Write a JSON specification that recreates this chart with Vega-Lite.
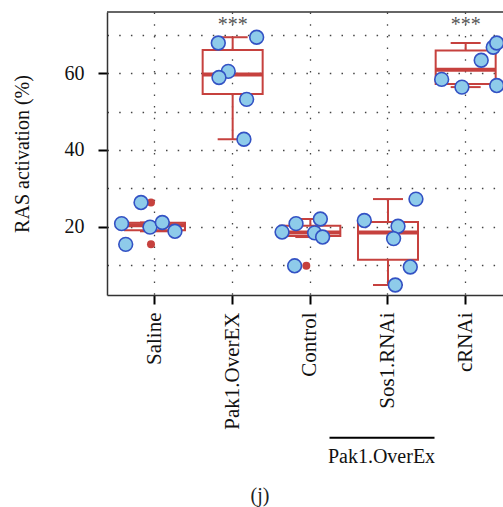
{
  "$schema": "https://vega.github.io/schema/vega-lite/v6.json",
  "width": 396,
  "height": 283,
  "autosize": {"type": "none"},
  "padding": {"left": 107, "top": 12, "right": 0, "bottom": 212},
  "background": "white",
  "config": {
    "font": "Liberation Serif",
    "view": {"stroke": null}
  },
  "title": {
    "text": "(j)",
    "orient": "bottom",
    "anchor": "middle",
    "fontSize": 20,
    "fontWeight": "normal",
    "font": "Liberation Serif",
    "color": "#222",
    "offset": 19,
    "dx": -45
  },
  "datasets": {
    "ras": [
      {"group": "Saline", "value": 26.3, "jitter": -0.18},
      {"group": "Saline", "value": 20.8, "jitter": -0.43},
      {"group": "Saline", "value": 19.9, "jitter": -0.064},
      {"group": "Saline", "value": 21.1, "jitter": 0.094},
      {"group": "Saline", "value": 18.8, "jitter": 0.257},
      {"group": "Saline", "value": 15.4, "jitter": -0.377},
      {"group": "Pak1.OverEX", "value": 67.9, "jitter": -0.185},
      {"group": "Pak1.OverEX", "value": 69.4, "jitter": 0.309},
      {"group": "Pak1.OverEX", "value": 60.5, "jitter": -0.057},
      {"group": "Pak1.OverEX", "value": 58.9, "jitter": -0.176},
      {"group": "Pak1.OverEX", "value": 53.2, "jitter": 0.18},
      {"group": "Pak1.OverEX", "value": 42.8, "jitter": 0.145},
      {"group": "Control", "value": 18.6, "jitter": -0.364},
      {"group": "Control", "value": 20.8, "jitter": -0.184},
      {"group": "Control", "value": 22.0, "jitter": 0.129},
      {"group": "Control", "value": 18.4, "jitter": 0.055},
      {"group": "Control", "value": 17.3, "jitter": 0.158},
      {"group": "Control", "value": 9.8, "jitter": -0.202},
      {"group": "Sos1.RNAi", "value": 27.2, "jitter": 0.36},
      {"group": "Sos1.RNAi", "value": 21.6, "jitter": -0.305},
      {"group": "Sos1.RNAi", "value": 20.1, "jitter": 0.129},
      {"group": "Sos1.RNAi", "value": 16.9, "jitter": 0.072},
      {"group": "Sos1.RNAi", "value": 9.5, "jitter": 0.287},
      {"group": "Sos1.RNAi", "value": 4.8, "jitter": 0.094},
      {"group": "cRNAi", "value": 58.4, "jitter": -0.309},
      {"group": "cRNAi", "value": 56.4, "jitter": -0.048},
      {"group": "cRNAi", "value": 63.4, "jitter": 0.2},
      {"group": "cRNAi", "value": 66.8, "jitter": 0.355},
      {"group": "cRNAi", "value": 67.9, "jitter": 0.4},
      {"group": "cRNAi", "value": 56.8, "jitter": 0.4}
    ],
    "stars": [
      {"group": "Pak1.OverEX", "label": "***"},
      {"group": "cRNAi", "label": "***"}
    ],
    "bracket": [
      {"group": "Sos1.RNAi", "label": "Pak1.OverEx"}
    ]
  },
  "layer": [
    {
      "data": {"name": "ras"},
      "mark": {
        "type": "boxplot",
        "extent": 1.5,
        "size": 60,
        "box": {"fill": "white", "fillOpacity": 0, "stroke": "#c6413e", "strokeWidth": 2, "strokeOpacity": 1, "opacity": 1},
        "median": {"color": "#c6413e", "thickness": 4, "opacity": 1},
        "rule": {"color": "#c6413e", "strokeWidth": 2, "opacity": 1},
        "ticks": {"color": "#c6413e", "size": 30, "thickness": 2, "opacity": 1},
        "outliers": {"color": "#c6413e", "filled": true, "size": 64, "opacity": 1, "xOffset": -4}
      },
      "encoding": {
        "x": {
          "field": "group",
          "type": "nominal",
          "scale": {
            "domain": ["Saline", "Pak1.OverEX", "Control", "Sos1.RNAi", "cRNAi"],
            "paddingInner": 0.5,
            "paddingOuter": 0.2993,
            "align": 0.6146
          },
          "axis": {
            "title": null,
            "labelAngle": -90,
            "labelFontSize": 21,
            "labelColor": "#111",
            "labelPadding": 8,
            "tickSize": 9,
            "tickWidth": 2,
            "tickColor": "black",
            "domainColor": "#333",
            "domainWidth": 1.5,
            "grid": true,
            "gridDash": [1.5, 10.2],
            "gridColor": "#444",
            "gridWidth": 1.3,
            "bandPosition": 0.5
          }
        },
        "y": {
          "field": "value",
          "type": "quantitative",
          "scale": {"domain": [2.19, 75.98], "nice": false, "zero": false},
          "axis": {
            "title": "RAS activation (%)",
            "values": [10, 20, 30, 40, 50, 60, 70],
            "labelExpr": "datum.value % 20 === 0 ? datum.label : ''",
            "labelFontSize": 20,
            "labelColor": "#111",
            "labelPadding": 14,
            "tickSize": 9,
            "tickWidth": 2,
            "tickColor": "black",
            "tickOpacity": {"condition": {"test": "datum.value % 20 === 0", "value": 1}, "value": 0},
            "domainColor": "#333",
            "domainWidth": 1.5,
            "grid": true,
            "gridDash": [1.5, 10.2],
            "gridColor": "#444",
            "gridWidth": 1.3,
            "titleFontSize": 20,
            "titleFontWeight": "normal",
            "titleColor": "#111",
            "titlePadding": 32
          }
        }
      }
    },
    {
      "data": {"name": "ras"},
      "mark": {"type": "circle", "fill": "#8ecbea", "stroke": "#3352c4", "strokeWidth": 1.6, "size": 190, "opacity": 1, "fillOpacity": 1},
      "encoding": {
        "x": {"field": "group", "type": "nominal"},
        "xOffset": {
          "field": "jitter",
          "type": "quantitative",
          "scale": {"domain": [-0.5, 0.5], "range": [-19.42, 58.25]}
        },
        "y": {"field": "value", "type": "quantitative"}
      }
    },
    {
      "data": {"name": "stars"},
      "mark": {"type": "text", "fontSize": 20, "color": "#555", "baseline": "alphabetic", "align": "center"},
      "encoding": {
        "x": {"field": "group", "type": "nominal"},
        "y": {"datum": 71.0},
        "text": {"field": "label"}
      }
    },
    {
      "data": {"values": [{}]},
      "mark": {"type": "rule", "color": "#333", "strokeWidth": 1.5},
      "encoding": {"y": {"datum": 75.98}}
    },
    {
      "data": {"name": "bracket"},
      "mark": {"type": "tick", "orient": "horizontal", "size": 105, "thickness": 2, "color": "black", "opacity": 1, "xOffset": -6},
      "encoding": {
        "x": {"field": "group", "type": "nominal"},
        "y": {"datum": -35.0}
      }
    },
    {
      "data": {"name": "bracket"},
      "mark": {"type": "text", "fontSize": 20, "color": "#111", "baseline": "alphabetic", "align": "center", "dx": -6.5},
      "encoding": {
        "x": {"field": "group", "type": "nominal"},
        "y": {"datum": -41.7},
        "text": {"field": "label"}
      }
    }
  ]
}
